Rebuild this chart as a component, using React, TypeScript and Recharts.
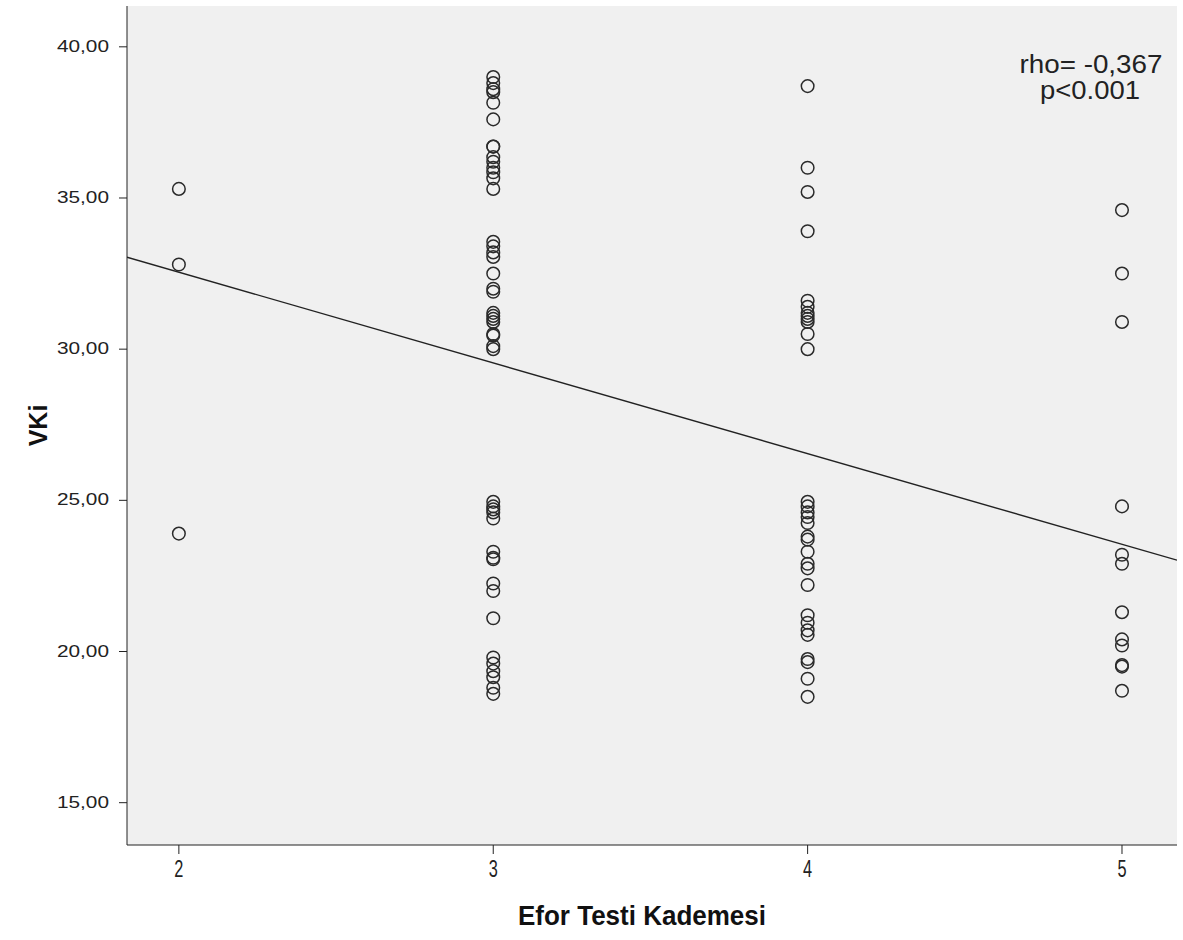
import {
  ScatterChart, Scatter, XAxis, YAxis, CartesianGrid, ReferenceLine,
} from 'recharts'

// VKi values
const VKI_STAGE_2 = [35.3, 32.8, 23.9]
const VKI_STAGE_3 = [
  39.0, 38.8, 38.6, 38.5, 38.15, 37.6, 36.7, 36.7, 36.35, 36.2, 36.0, 35.85, 35.65, 35.3,
  33.55, 33.4, 33.2, 33.05, 32.5, 32.0, 31.9, 31.2, 31.1, 31.0, 30.9, 30.5, 30.45, 30.1, 30.0,
  24.95, 24.8, 24.7, 24.6, 24.4, 23.3, 23.1, 23.05, 22.25, 22.0, 21.1,
  19.8, 19.6, 19.35, 19.15, 18.8, 18.6,
]
const VKI_STAGE_4 = [
  38.7, 36.0, 35.2, 33.9, 31.6, 31.4, 31.2, 31.1, 31.0, 30.9, 30.5, 30.0,
  24.95, 24.8, 24.6, 24.45, 24.25, 23.8, 23.7, 23.3, 22.9, 22.75, 22.2,
  21.2, 20.95, 20.7, 20.55, 19.75, 19.65, 19.1, 18.5,
]
const VKI_STAGE_5 = [34.6, 32.5, 30.9, 24.8, 23.2, 22.9, 21.3, 20.4, 20.2, 19.55, 19.5, 18.7]

const X_TICKS = [2, 3, 4, 5]
const Y_TICKS = [15, 20, 25, 30, 35, 40]
const X_DOMAIN: [number, number] = [1.835, 5.175]
const Y_DOMAIN: [number, number] = [13.6, 41.35]

// fit line endpoints (at the x-domain edges)
const FIT_LINE = [
  { x: 1.835, y: 33.04 },
  { x: 5.175, y: 23.02 },
]

const stages: [number, number[]][] = [
  [2, VKI_STAGE_2],
  [3, VKI_STAGE_3],
  [4, VKI_STAGE_4],
  [5, VKI_STAGE_5],
]
const points = stages.flatMap(([x, vals]) => vals.map((y) => ({ x, y })))

const FONT = '"Liberation Sans", Arial, sans-serif'

const OpenCircle = (props: any) => (
  <circle cx={props.cx} cy={props.cy} r={6.3} fill="none" stroke="#2a2a2a" strokeWidth={1.5} />
)

// SPSS-ish wide y tick labels
const YTick = ({ x, y, payload }: any) => (
  <g transform={`translate(${x - 8},${y})`}>
    <text transform="scale(1.3,1)" textAnchor="end" dy={5} fontSize={16} fontFamily={FONT} fill="#222">
      {payload.value.toFixed(2).replace('.', ',')}
    </text>
  </g>
)

// narrow x tick labels
const XTick = ({ x, y, payload }: any) => (
  <g transform={`translate(${x},${y})`}>
    <text transform="scale(0.68,1)" textAnchor="middle" dy={21} fontSize={24} fontFamily={FONT} fill="#222">
      {payload.value}
    </text>
  </g>
)

const XTitle = ({ viewBox }: any) => (
  <text
    x={viewBox.x + viewBox.width / 2 - 10}
    y={viewBox.y + 80}
    textAnchor="middle"
    fontSize={27}
    fontWeight="bold"
    fontFamily={FONT}
    fill="#111"
    textLength={248}
    lengthAdjust="spacingAndGlyphs"
  >
    Efor Testi Kademesi
  </text>
)

export default function App() {
  return (
    <div style={{ position: 'absolute', left: 0, top: 0, width: 1183, height: 940, background: '#fff' }}>
      <ScatterChart width={1183} height={940} margin={{ top: 6, right: 6, left: 0, bottom: 0 }}>
        <CartesianGrid horizontal={false} vertical={false} fill="#f0f0f0" />
        <XAxis
          dataKey="x"
          type="number"
          domain={X_DOMAIN}
          ticks={X_TICKS}
          allowDataOverflow
          height={95}
          stroke="#222"
          tickSize={9}
          tick={<XTick />}
          label={<XTitle />}
        />
        <XAxis xAxisId="top" orientation="top" type="number" domain={X_DOMAIN} height={0}
          tick={false} tickLine={false} stroke="#666" allowDataOverflow />
        <YAxis
          dataKey="y"
          type="number"
          domain={Y_DOMAIN}
          ticks={Y_TICKS}
          allowDataOverflow
          width={127}
          stroke="#222"
          tickSize={8}
          tick={<YTick />}
          label={{
            value: 'VKi',
            angle: -90,
            position: 'insideLeft',
            offset: 38,
            style: { fill: '#111', fontSize: 25, fontWeight: 'bold', fontFamily: FONT, textAnchor: 'middle' },
          }}
        />
        <YAxis yAxisId="right" orientation="right" type="number" domain={Y_DOMAIN} width={0}
          tick={false} tickLine={false} stroke="#666" allowDataOverflow />
        <ReferenceLine segment={FIT_LINE} stroke="#222" strokeWidth={1.4} ifOverflow="hidden" />
        <Scatter data={points} shape={OpenCircle} isAnimationActive={false} />
      </ScatterChart>
      <svg width={200} height={70} style={{ position: 'absolute', left: 991, top: 45 }}>
        <text x={100} y={28} textAnchor="middle" fontSize={25} fontFamily={FONT} fill="#222"
          textLength={143} lengthAdjust="spacingAndGlyphs">
          rho= -0,367
        </text>
        <text x={99} y={54} textAnchor="middle" fontSize={25} fontFamily={FONT} fill="#222"
          textLength={100} lengthAdjust="spacingAndGlyphs">
          p&lt;0.001
        </text>
      </svg>
    </div>
  )
}
